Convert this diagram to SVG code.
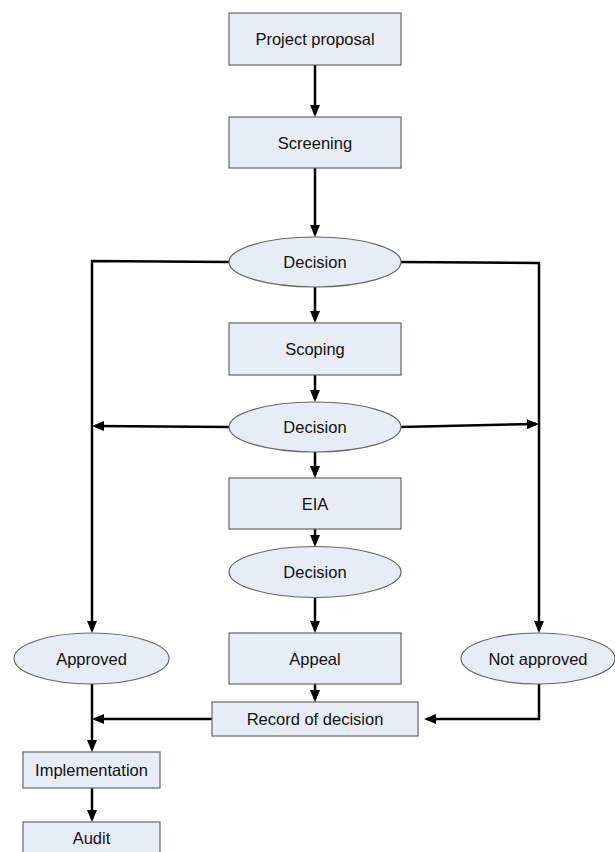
<svg xmlns="http://www.w3.org/2000/svg" width="615" height="852" viewBox="0 0 615 852">
<style>
.box{fill:#e8ecf6;stroke:#666;stroke-width:1.2}
.lbl{font-family:"Liberation Sans",Arial,sans-serif;font-size:16.5px;fill:#111;text-anchor:middle}
.c{fill:none;stroke:#000;stroke-width:2.5}
.a{marker-end:url(#arr)}
</style>
<defs>
<marker id="arr" viewBox="0 0 12 10" refX="9" refY="5" markerWidth="12" markerHeight="10" markerUnits="userSpaceOnUse" orient="auto">
<path d="M0,0 L12,5 L0,10 z" fill="#000"/>
</marker>
</defs>
<rect width="615" height="852" fill="#fff"/>
<g id="connectors">
<path class="c a" d="M315,65 V114"/>
<path class="c a" d="M315,168 V234"/>
<path class="c a" d="M229,262 L92,261 V630"/>
<path class="c a" d="M401,262 L539,263 V630"/>
<path class="c a" d="M315,287 V320"/>
<path class="c a" d="M315,375 V399"/>
<path class="c a" d="M229,427 L95,426"/>
<path class="c a" d="M401,427 L536,424"/>
<path class="c a" d="M315,452 V475"/>
<path class="c a" d="M315,529 V544"/>
<path class="c a" d="M315,598 V630"/>
<path class="c a" d="M315,684 V699"/>
<path class="c a" d="M92,684 V749"/>
<path class="c a" d="M212,719 H95"/>
<path class="c a" d="M539,684 V719 H427"/>
<path class="c a" d="M92,788 V819"/>
</g>
<g id="project-proposal"><rect class="box" x="229" y="13" width="172" height="52"/><text class="lbl" x="315" y="45">Project proposal</text></g>
<g id="screening"><rect class="box" x="229" y="117" width="172" height="51"/><text class="lbl" x="315" y="148.5">Screening</text></g>
<g id="decision1"><ellipse class="box" cx="315" cy="262" rx="86" ry="25"/><text class="lbl" x="315" y="268">Decision</text></g>
<g id="scoping"><rect class="box" x="229" y="323" width="172" height="52"/><text class="lbl" x="315" y="355">Scoping</text></g>
<g id="decision2"><ellipse class="box" cx="315" cy="427" rx="86" ry="25"/><text class="lbl" x="315" y="433">Decision</text></g>
<g id="eia"><rect class="box" x="229" y="478" width="172" height="51"/><text class="lbl" x="315" y="509.5">EIA</text></g>
<g id="decision3"><ellipse class="box" cx="315" cy="572" rx="86" ry="25.5"/><text class="lbl" x="315" y="578">Decision</text></g>
<g id="appeal"><rect class="box" x="229" y="633" width="172" height="51"/><text class="lbl" x="315" y="664.5">Appeal</text></g>
<g id="approved"><ellipse class="box" cx="91.5" cy="658.5" rx="77.5" ry="25.5"/><text class="lbl" x="91.5" y="664.5">Approved</text></g>
<g id="not-approved"><ellipse class="box" cx="538" cy="658.5" rx="77" ry="25.5"/><text class="lbl" x="538" y="664.5">Not approved</text></g>
<g id="record"><rect class="box" x="212" y="702" width="206" height="34"/><text class="lbl" x="315" y="725">Record of decision</text></g>
<g id="implementation"><rect class="box" x="23" y="752" width="137" height="36"/><text class="lbl" x="91.5" y="776">Implementation</text></g>
<g id="audit"><rect class="box" x="23" y="822" width="137" height="40"/><text class="lbl" x="91.5" y="844">Audit</text></g>
</svg>
